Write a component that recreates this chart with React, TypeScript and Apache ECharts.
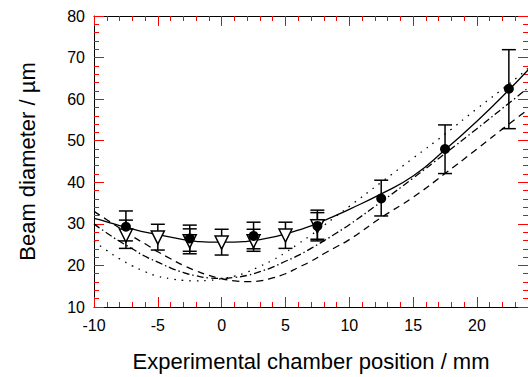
import React, { useEffect, useRef } from "react";
import * as echarts from "echarts";

// Fitted curves
const curveX = [-10, -9, -8, -7, -6, -5, -4, -3, -2, -1, 0, 1, 2, 3, 4, 5, 6, 7, 8, 9, 10, 12.5, 15, 17.5, 20, 22.5, 24];
const solidY = [31.3, 30.5, 29.6, 28.8, 28.0, 27.4, 26.8, 26.2, 25.8, 25.6, 25.6, 25.6, 25.8, 26.2, 26.8, 27.6, 28.5, 29.5, 30.8, 32.1, 33.5, 37.2, 41.5, 47.8, 54.7, 62.2, 67.0];
const dashedY = [33.0, 31.0, 29.0, 27.0, 25.2, 23.3, 21.6, 20.0, 18.7, 17.6, 16.8, 16.3, 16.1, 16.3, 17.0, 18.0, 19.5, 21.0, 22.8, 24.5, 26.2, 31.5, 36.4, 42.1, 48.0, 54.0, 57.5];
const dashDotY = [30.0, 27.8, 25.8, 24.0, 22.2, 20.8, 19.4, 18.3, 17.5, 17.0, 16.9, 17.1, 17.6, 18.5, 19.6, 21.0, 22.4, 24.1, 25.9, 27.8, 29.8, 35.3, 41.0, 46.9, 52.9, 59.0, 62.7];
const dottedY = [25.8, 23.6, 21.6, 19.9, 18.5, 17.4, 16.8, 16.4, 16.3, 16.4, 16.8, 17.4, 18.4, 19.8, 21.3, 23.1, 25.2, 27.3, 29.6, 31.9, 34.2, 40.0, 45.8, 51.6, 57.7, 63.6, 67.4];

// Measured points: filled circles
const circleX = [-7.5, -2.5, 2.5, 7.5, 12.5, 17.5, 22.5];
const circleY = [29.3, 26.5, 27.1, 29.5, 36.1, 48.0, 62.5];
const circleLow = [25.9, 23.4, 24.0, 25.9, 31.9, 42.1, 52.9];
const circleHigh = [33.1, 29.7, 30.4, 33.3, 40.5, 53.8, 71.9];

// Measured points: open down-triangles
const triX = [-7.5, -5, -2.5, 0, 2.5, 5, 7.5];
const triY = [27.2, 26.7, 25.8, 25.5, 25.8, 27.2, 29.4];
const triLow = [24.1, 23.7, 22.8, 22.5, 23.4, 24.1, 26.3];
const triHigh = [30.9, 29.9, 28.8, 28.7, 28.7, 30.4, 32.7];

const xTitle = "Experimental chamber position / mm";
const yTitle = "Beam diameter / µm";

const FONT = "Liberation Sans, Arial, sans-serif";

export default function App() {
  const ref = useRef<HTMLDivElement>(null);

  useEffect(() => {
    if (!ref.current) return;
    const chart = echarts.init(ref.current, null, { renderer: "svg" });

    const pair = (xs: number[], ys: number[]) => xs.map((x, i) => [x, ys[i]]);
    const errData = (xs: number[], lo: number[], hi: number[]) => xs.map((x, i) => [x, lo[i], hi[i]]);

    const errorRender = (params: any, api: any) => {
      const x = api.value(0);
      const lo = api.coord([x, api.value(1)]);
      const hi = api.coord([x, api.value(2)]);
      const cap = 7;
      const st = { stroke: "#000", lineWidth: 1.5 };
      return {
        type: "group",
        children: [
          { type: "line", shape: { x1: lo[0], y1: lo[1], x2: hi[0], y2: hi[1] }, style: st },
          { type: "line", shape: { x1: lo[0] - cap, y1: lo[1], x2: lo[0] + cap, y2: lo[1] }, style: st },
          { type: "line", shape: { x1: hi[0] - cap, y1: hi[1], x2: hi[0] + cap, y2: hi[1] }, style: st },
        ],
      };
    };

    const tick = (len: number) => ({ show: true, inside: true, length: len, lineStyle: { color: "#ff0000", width: 1 } });

    const xBase = {
      type: "value" as const,
      min: -10,
      max: 24,
      interval: 5,
      axisLine: { show: true, onZero: false, lineStyle: { color: "#000", width: 1 } },
      splitLine: { show: false },
      minorSplitLine: { show: false },
    };
    const yBase = {
      type: "value" as const,
      min: 10,
      max: 80,
      interval: 10,
      axisLine: { show: true, onZero: false, lineStyle: { color: "#000", width: 1 } },
      splitLine: { show: false },
      minorSplitLine: { show: false },
    };

    const lineSeries = (data: number[], type: any) => ({
      type: "line",
      data: pair(curveX, data),
      showSymbol: false,
      smooth: true,
      lineStyle: { color: "#000", width: 1.3, type },
      z: 3,
      silent: true,
    });

    chart.setOption({
      animation: false,
      backgroundColor: "#fff",
      grid: { left: 94, right: 0, top: 16, bottom: 69, containLabel: false },
      xAxis: [
        {
          ...xBase,
          position: "bottom",
          axisTick: tick(10),
          minorTick: { show: true, splitNumber: 5, length: 5, lineStyle: { color: "#ff0000" } },
          axisLabel: { show: true, color: "#000", fontSize: 16, fontFamily: FONT, margin: 10, showMaxLabel: false },
          name: xTitle,
          nameLocation: "middle",
          nameGap: 43,
          nameTextStyle: { color: "#000", fontSize: 22, fontFamily: FONT },
        },
        {
          ...xBase,
          position: "top",
          axisTick: tick(10),
          minorTick: { show: true, splitNumber: 5, length: 5, lineStyle: { color: "#ff0000" } },
          axisLabel: { show: false },
        },
      ],
      yAxis: [
        {
          ...yBase,
          position: "left",
          axisTick: tick(10),
          minorTick: { show: true, splitNumber: 5, length: 5, lineStyle: { color: "#ff0000" } },
          axisLabel: { show: true, color: "#000", fontSize: 16, fontFamily: FONT, margin: 9 },
          name: yTitle,
          nameLocation: "middle",
          nameGap: 56,
          nameTextStyle: { color: "#000", fontSize: 22, fontFamily: FONT },
        },
        {
          ...yBase,
          position: "right",
          axisTick: tick(10),
          minorTick: { show: true, splitNumber: 5, length: 5, lineStyle: { color: "#ff0000" } },
          axisLabel: { show: false },
        },
      ],
      series: [
        {
          type: "custom",
          renderItem: errorRender,
          data: errData(triX, triLow, triHigh),
          encode: { x: 0, y: [1, 2] },
          z: 2,
          silent: true,
        },
        {
          type: "custom",
          renderItem: errorRender,
          data: errData(circleX, circleLow, circleHigh),
          encode: { x: 0, y: [1, 2] },
          z: 2,
          silent: true,
        },
        lineSeries(solidY, "solid"),
        lineSeries(dashedY, [7, 5]),
        lineSeries(dashDotY, [7, 3, 1.5, 3]),
        lineSeries(dottedY, [1.5, 6]),
        {
          type: "scatter",
          data: pair(triX, triY),
          symbol: "triangle",
          symbolRotate: 180,
          symbolSize: 13,
          itemStyle: { color: "#fff", borderColor: "#000", borderWidth: 1.5, opacity: 1 },
          z: 4,
          silent: true,
        },
        {
          type: "scatter",
          data: pair(circleX, circleY),
          symbol: "circle",
          symbolSize: 10,
          itemStyle: { color: "#000", opacity: 1 },
          z: 5,
          silent: true,
        },
      ],
    });

    return () => chart.dispose();
  }, []);

  return (
    <div
      ref={ref}
      style={{ position: "absolute", left: 0, top: 0, width: 528, height: 377, background: "#fff" }}
    />
  );
}
